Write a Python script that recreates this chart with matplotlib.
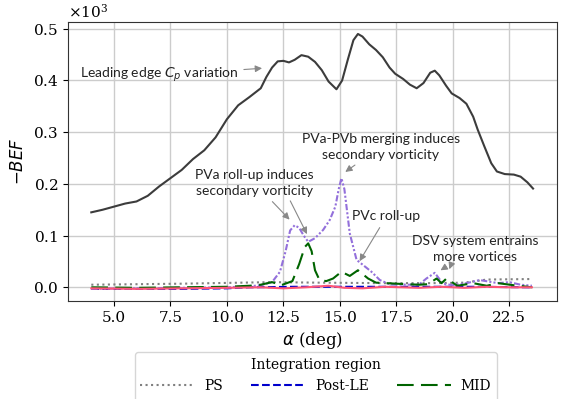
import matplotlib
matplotlib.use("Agg")
import matplotlib.pyplot as plt

plt.rcParams["font.family"] = "DejaVu Serif"
plt.rcParams["mathtext.fontset"] = "custom"
plt.rcParams["mathtext.rm"] = "DejaVu Serif"
plt.rcParams["mathtext.it"] = "DejaVu Sans:italic"

# LE (black) curve
le_x = [4.0, 4.5, 5.0, 5.5, 6.0, 6.5, 7.0, 7.5, 8.0, 8.5, 9.0, 9.5, 10.0, 10.5,
        11.0, 11.5, 11.75, 12.0, 12.25, 12.5, 12.75, 13.0, 13.3, 13.6, 13.9, 14.2,
        14.5, 14.85, 15.1, 15.35, 15.6, 15.8, 16.0, 16.3, 16.6, 16.9, 17.2, 17.45,
        17.8, 18.1, 18.4, 18.7, 19.0, 19.2, 19.4, 19.7, 19.95, 20.3, 20.6, 20.9,
        21.1, 21.4, 21.7, 21.95, 22.3, 22.7, 23.0, 23.3, 23.55]
le_y = [145, 150, 156, 162, 166, 177, 195, 211, 227, 248, 265, 290, 325, 352,
        368, 385, 407, 425, 437, 438, 435, 440, 449, 446, 436, 420,
        398, 383, 400, 440, 478, 490, 485, 470, 459, 445, 425, 413,
        403, 392, 385, 395, 415, 419, 410, 390, 375, 366, 355, 330,
        305, 272, 240, 224, 219, 218, 214, 203, 191]

# FWD (purple) curve
fwd_x = [4.0, 6.0, 8.0, 10.0, 11.0, 11.5, 12.0, 12.35, 12.6, 12.8, 13.0, 13.2,
         13.4, 13.6, 13.9, 14.26, 14.55, 14.8, 14.95, 15.07, 15.2, 15.44, 15.74,
         16.03, 16.4, 16.77, 17.2, 18.0, 18.5, 18.83, 19.2, 19.56, 20.0, 20.6,
         21.2, 21.6, 22.0, 22.5, 23.0, 23.5]
fwd_y = [-3, -2, -1, 0, 2, 4, 10, 30, 70, 110, 120, 115, 100, 88, 95, 111, 130,
         156, 190, 211, 190, 104, 53, 43, 30, 14, 6, 5, 5, 17, 28, 7, 4, 8,
         14, 11, 8, 10, 5, 3]

# MID (green) curve
mid_x = [4.0, 6.0, 8.0, 10.0, 11.0, 11.5, 12.0, 12.4, 12.9, 13.2, 13.45, 13.6,
         13.75, 13.9, 14.1, 14.4, 14.7, 15.07, 15.44, 15.8, 16.25, 16.6, 17.5,
         18.5, 18.9, 19.28, 19.5, 19.72, 20.2, 20.9, 21.5, 22.0, 22.7, 23.5]
mid_y = [0, -1, 0, 1, 3, 5, 10, 4, 12, 45, 78, 85, 70, 33, 14, 12, 17, 30, 22,
         33, 17, 9, 7, 5, 6, 17, 8, 17, 3, 8, 3, 8, 4, 0]

# PS (grey dotted) curve
ps_x = [4.0, 8.0, 12.0, 14.0, 17.0, 19.0, 20.5, 21.5, 23.5]
ps_y = [5, 7, 10, 9, 8, 8, 9, 15, 16]

# Post-LE (blue dashed) curve
post_x = [4.0, 6.0, 8.0, 10.0, 11.0, 13.0, 16.0, 19.0, 21.0, 23.5]
post_y = [-3, -3, -3, -2, 0, 1, 1, 1, 1, 0]

# AFT (pink) curve
aft_x = [4.0, 6.0, 8.0, 10.0, 11.5, 12.5, 13.5, 14.5, 15.2, 16.0, 17.0, 18.5,
         19.5, 20.5, 21.5, 22.5, 23.5]
aft_y = [-2, -3, -2, -1, 0, -2, 0, 3, -1, -2, 1, -1, 1, -1, 1, 0, 0]

fig = plt.figure(figsize=(5.74, 3.99), dpi=100)
ax = fig.add_axes([0.1185, 0.2456, 0.8515, 0.7])

ax.plot(ps_x, ps_y, color="#808080", ls=":", lw=1.5, label="PS")
ax.plot(le_x, le_y, color="#3c3c3c", ls="-", lw=1.5, label="LE")
ax.plot(post_x, post_y, color="#0000cc", ls="--", lw=1.5, label="Post-LE")
ax.plot(fwd_x, fwd_y, color="#9370db", ls=(0, (3, 1, 1, 1, 1, 1)), lw=1.5,
        label="FWD")
ax.plot(mid_x, mid_y, color="#006400", ls=(0, (8, 3.5)), lw=1.5, label="MID")
ax.plot(aft_x, aft_y, color="#ff5577", ls="-", lw=1.5, label="AFT")

ax.set_xlim(2.97, 24.6)
ax.set_ylim(-26.5, 513.7)
ax.set_xticks([5.0, 7.5, 10.0, 12.5, 15.0, 17.5, 20.0, 22.5])
ax.set_yticks([0, 100, 200, 300, 400, 500])
ax.ticklabel_format(axis="y", style="sci", scilimits=(3, 3), useMathText=True)
ax.tick_params(labelsize=11)
ax.yaxis.get_offset_text().set_fontsize(11)
ax.grid(True, color="#cccccc", lw=1)
ax.set_axisbelow(True)
for s in ax.spines.values():
    s.set_color("#333333")

ax.set_xlabel(r"$\alpha$ (deg)", fontsize=12)
ax.set_ylabel("$-BEF$", fontsize=12)

arr = dict(arrowstyle="-|>", color="#888888", lw=0.8, mutation_scale=10)
afont = dict(family="Lato", fontsize=10, color="#222222")

ax.annotate("Leading edge $C_p$ variation", xy=(11.68, 424), xytext=(3.5, 410),
            ha="left", va="center", arrowprops=arr, **afont)
ax.annotate("PVa roll-up induces\nsecondary vorticity", xy=(12.86, 127),
            xytext=(11.22, 202), ha="center", va="center", arrowprops=arr,
            linespacing=1.4, **afont)
ax.annotate("", xy=(13.6, 98), xytext=(12.75, 172), arrowprops=arr)
ax.annotate("PVa-PVb merging induces\nsecondary vorticity", xy=(15.14, 220),
            xytext=(16.81, 272), ha="center", va="center", arrowprops=arr,
            linespacing=1.4, **afont)
ax.annotate("PVc roll-up", xy=(15.81, 46), xytext=(17.06, 137), ha="center",
            va="center", arrowprops=arr, **afont)
ax.annotate("DSV system entrains\nmore vortices", xy=(19.35, 30),
            xytext=(20.97, 75), ha="center", va="center", arrowprops=arr,
            linespacing=1.4, **afont)
ax.annotate("", xy=(19.8, 30), xytext=(19.95, 47), arrowprops=arr)

ax.legend(title="Integration region", ncol=3, loc="upper center",
          bbox_to_anchor=(0.507, -0.183), borderaxespad=0, fontsize=10,
          title_fontsize=10, handlelength=3.9, handletextpad=0.7,
          columnspacing=2.0)

fig.savefig("out.png", dpi=100)
